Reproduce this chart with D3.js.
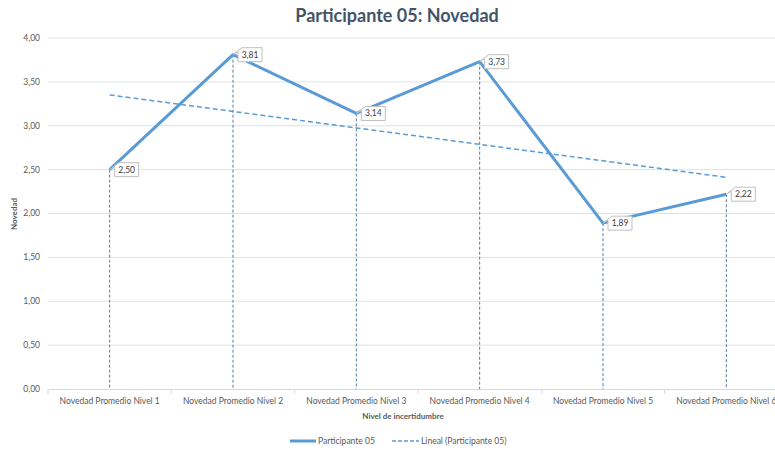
<!DOCTYPE html>
<html>
<head>
<meta charset="utf-8">
<script src="https://cdn.jsdelivr.net/npm/d3@7"></script>
<style>
  body { margin: 0; background: #fff; }
  svg { font-family: Lato, "Open Sans", sans-serif; }
</style>
</head>
<body>
<div id="chart"></div>
<script>
// chart data
var categories = ["Novedad Promedio Nivel 1", "Novedad Promedio Nivel 2", "Novedad Promedio Nivel 3",
                  "Novedad Promedio Nivel 4", "Novedad Promedio Nivel 5", "Novedad Promedio Nivel 6"];
var values = [2.50, 3.81, 3.14, 3.73, 1.89, 2.22];
var yTicks = [0, 0.5, 1, 1.5, 2, 2.5, 3, 3.5, 4];

var width = 775, height = 452;
var margin = { left: 48, right: -13, top: 38, bottom: 63 };
var lineColor = "#5b9bd5";
var textColor = "#595959";

var fmt = function(d){ return d3.format(".2f")(d).replace(".", ","); };

var svg = d3.select("#chart").append("svg")
    .attr("width", width)
    .attr("height", height);

var x = d3.scaleBand()
    .domain(categories)
    .range([margin.left, width - margin.right]);

var y = d3.scaleLinear()
    .domain([0, 4])
    .range([height - margin.bottom, margin.top]);

// gridlines
svg.append("g").selectAll("line")
    .data(yTicks.slice(1))
    .enter().append("line")
    .attr("x1", margin.left)
    .attr("x2", width - margin.right)
    .attr("y1", function(d){ return y(d); })
    .attr("y2", function(d){ return y(d); })
    .attr("stroke", "#dde1e6")
    .attr("stroke-width", 1);

// y axis labels
svg.append("g").selectAll("text")
    .data(yTicks)
    .enter().append("text")
    .attr("x", 40)
    .attr("y", function(d){ return y(d); })
    .attr("dy", "0.35em")
    .attr("text-anchor", "end")
    .attr("font-size", 8.5)
    .attr("fill", textColor)
    .text(fmt);

// x axis
var xAxis = svg.append("g")
    .attr("transform", "translate(0," + y(0) + ")")
    .call(d3.axisBottom(x).tickSize(0).tickPadding(9));
xAxis.select(".domain").attr("stroke", "#d9d9d9");
xAxis.selectAll("text")
    .attr("font-size", 8.5)
    .attr("font-family", "Lato, sans-serif")
    .attr("fill", textColor);

// tick marks on band edges
svg.append("g").selectAll("line")
    .data(categories)
    .enter().append("line")
    .attr("x1", function(d){ return x(d); })
    .attr("x2", function(d){ return x(d); })
    .attr("y1", y(0))
    .attr("y2", y(0) + 5)
    .attr("stroke", "#d9d9d9");

var cx = function(d, i){ return x(categories[i]) + x.bandwidth() / 2; };

// drop lines
svg.append("g").selectAll("line")
    .data(values)
    .enter().append("line")
    .attr("x1", cx)
    .attr("x2", cx)
    .attr("y1", function(d){ return y(d); })
    .attr("y2", y(0))
    .attr("stroke", "#5a7aa0")
    .attr("stroke-width", 1)
    .attr("stroke-dasharray", "3,2");

// linear trend (least squares on the series)
var n = values.length;
var xs = d3.range(1, n + 1);
var mx = d3.mean(xs), my = d3.mean(values);
var slope = d3.sum(xs, function(v, i){ return (v - mx) * (values[i] - my); }) /
            d3.sum(xs, function(v){ return (v - mx) * (v - mx); });
var trend = xs.map(function(v){ return my + slope * (v - mx); });

var line = d3.line()
    .x(function(d, i){ return cx(d, i); })
    .y(function(d){ return y(d); });

svg.append("path")
    .datum(trend)
    .attr("d", line)
    .attr("fill", "none")
    .attr("stroke", lineColor)
    .attr("stroke-width", 1.5)
    .attr("stroke-dasharray", "5,3");

svg.append("path")
    .datum(values)
    .attr("d", line)
    .attr("fill", "none")
    .attr("stroke", lineColor)
    .attr("stroke-width", 3)
    .attr("stroke-linejoin", "round");

// data labels (callouts)
var lw = 24, lh = 14;
var labels = svg.append("g").selectAll("g")
    .data(values)
    .enter().append("g");

labels.append("path")
    .attr("d", function(d, i){
        var px = cx(d, i), py = y(d);
        var bx = px + 5, by = py - 7;
        return "M" + (bx + 4) + "," + by +
               "L" + (bx + lw) + "," + by +
               "L" + (bx + lw) + "," + (by + lh) +
               "L" + bx + "," + (by + lh) +
               "L" + bx + "," + (by + 4) +
               "L" + px + "," + py + "Z";
    })
    .attr("fill", "#fff")
    .attr("stroke", "#bfbfbf")
    .attr("stroke-width", 1);

labels.append("text")
    .attr("x", function(d, i){ return cx(d, i) + 5 + lw / 2; })
    .attr("y", function(d){ return y(d); })
    .attr("dy", "0.35em")
    .attr("text-anchor", "middle")
    .attr("font-size", 8.5)
    .attr("fill", "#404040")
    .text(fmt);

// title
svg.append("text")
    .attr("x", 397)
    .attr("y", 22)
    .attr("text-anchor", "middle")
    .attr("font-size", 18)
    .attr("font-weight", "bold")
    .attr("fill", "#44546a")
    .text("Participante 05: Novedad");

// axis titles
svg.append("text")
    .attr("transform", "translate(17,214) rotate(-90)")
    .attr("text-anchor", "middle")
    .attr("font-size", 8)
    .attr("font-weight", "bold")
    .attr("fill", textColor)
    .text("Novedad");

svg.append("text")
    .attr("x", 403)
    .attr("y", 419)
    .attr("text-anchor", "middle")
    .attr("font-size", 8)
    .attr("font-weight", "bold")
    .attr("fill", textColor)
    .text("Nivel de incertidumbre");

// legend
var legend = svg.append("g").attr("transform", "translate(0,441)");
legend.append("line")
    .attr("x1", 290).attr("x2", 316)
    .attr("stroke", lineColor).attr("stroke-width", 3);
legend.append("text")
    .attr("x", 318).attr("dy", "0.35em")
    .attr("font-size", 8.5).attr("fill", textColor)
    .text("Participante 05");
legend.append("line")
    .attr("x1", 392).attr("x2", 419)
    .attr("stroke", lineColor).attr("stroke-width", 1.5)
    .attr("stroke-dasharray", "4,2");
legend.append("text")
    .attr("x", 421).attr("dy", "0.35em")
    .attr("font-size", 8.5).attr("fill", textColor)
    .text("Lineal (Participante 05)");
</script>
</body>
</html>
